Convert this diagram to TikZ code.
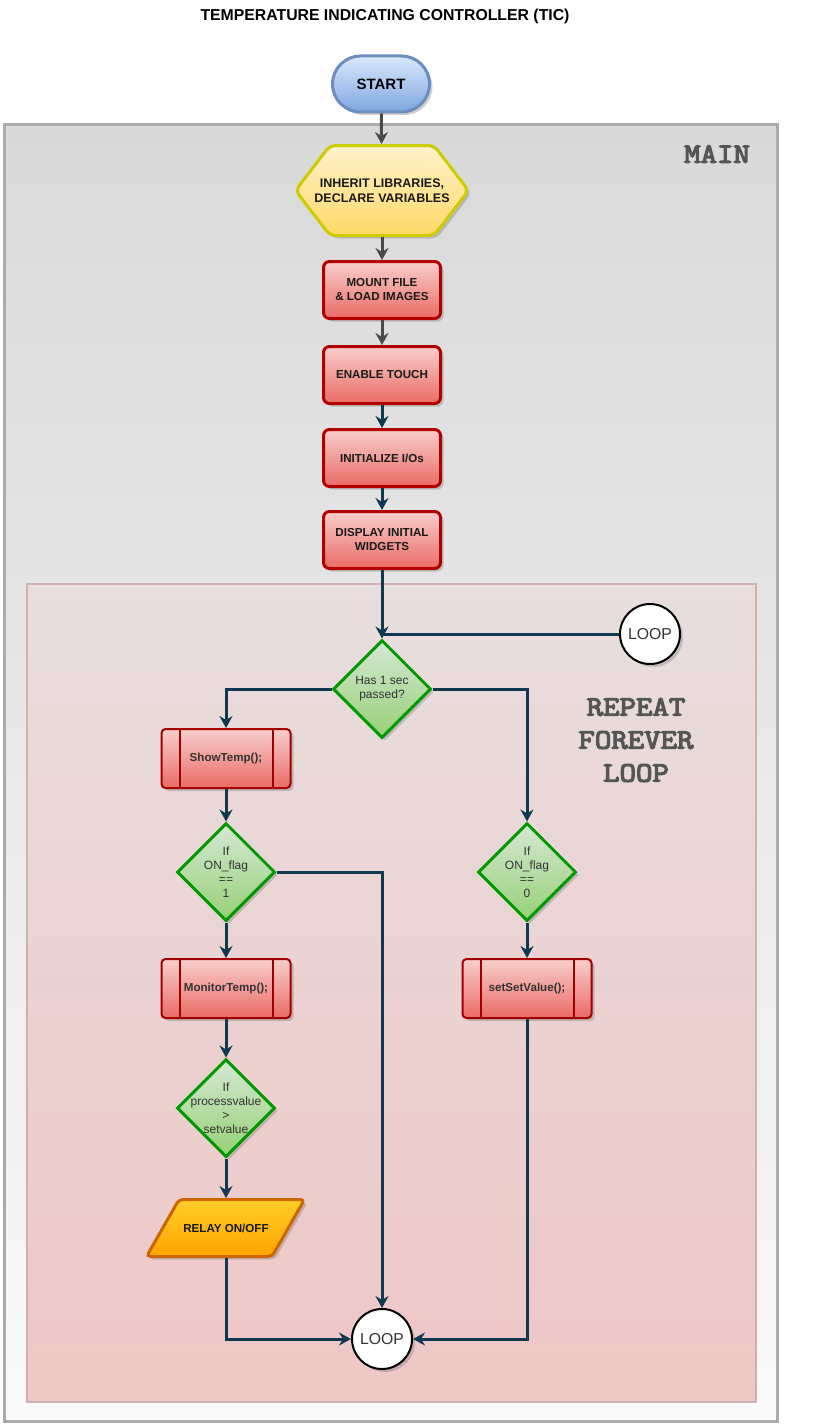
\documentclass[tikz,border=0pt]{standalone}
\usepackage{fontspec}
\setmainfont{Liberation Sans}
\newfontfamily\courb[FakeBold=4.5,FakeStretch=1.14]{Latin Modern Mono}
\usetikzlibrary{arrows.meta,shadows,shapes.geometric,calc}
\definecolor{navy}{HTML}{10394F}
\definecolor{arrgray}{HTML}{4A4A4A}
\definecolor{outerb}{HTML}{ABABAB}
\definecolor{outtop}{HTML}{D9D9D9}
\definecolor{outbot}{HTML}{FAFAFA}
\definecolor{innerb}{HTML}{D0B0B0}
\definecolor{intop}{HTML}{E8DEDE}
\definecolor{inbot}{HTML}{EFC6C6}
\definecolor{bluetop}{HTML}{DAE8FC}
\definecolor{bluebot}{HTML}{7EA6E0}
\definecolor{blueb}{HTML}{6C8EBF}
\definecolor{yeltop}{HTML}{FFF2CC}
\definecolor{yelbot}{HTML}{FFD966}
\definecolor{yelb}{HTML}{CCCC00}
\definecolor{redtop}{HTML}{F8CECC}
\definecolor{redbot}{HTML}{EA6B66}
\definecolor{redb}{HTML}{B20000}
\definecolor{preb}{HTML}{A20000}
\definecolor{grntop}{HTML}{D5E8D4}
\definecolor{grnbot}{HTML}{97D077}
\definecolor{grnb}{HTML}{009900}
\definecolor{orgtop}{HTML}{FFCD28}
\definecolor{orgbot}{HTML}{FFA500}
\definecolor{orgb}{HTML}{CC6600}
\definecolor{txtdark}{HTML}{1A1A1A}
\definecolor{txtgray}{HTML}{333333}
\definecolor{labgray}{HTML}{555555}
\begin{document}
\begin{tikzpicture}[x=1pt,y=-1pt,
  shd/.style={drop shadow={shadow xshift=3pt,shadow yshift=-3pt,opacity=0.3,fill=black!60}},
  startbox/.style={draw=blueb,line width=3pt,rounded corners=28pt,top color=bluetop,bottom color=bluebot,
    minimum width=97pt,minimum height=56pt,inner sep=0pt,font=\bfseries\fontsize{15}{18}\selectfont,text=black,shd},
  procbox/.style={draw=redb,line width=3pt,rounded corners=6pt,top color=redtop,bottom color=redbot,
    minimum width=117pt,minimum height=57pt,inner sep=0pt,align=center,
    font=\bfseries\fontsize{11.6}{14}\selectfont,text=txtdark,shd},
  prebox/.style={draw=preb,line width=2pt,rounded corners=4pt,top color=redtop,bottom color=redbot,
    minimum width=129pt,minimum height=59pt,inner sep=0pt,align=center,
    font=\bfseries\fontsize{11.6}{14}\selectfont,text=txtgray,shd},
  decbox/.style={diamond,aspect=1,draw=grnb,line width=3pt,top color=grntop,bottom color=grnbot,
    minimum width=98pt,minimum height=98pt,inner sep=0pt,shd},
  dectext/.style={align=center,font=\fontsize{12}{14}\selectfont,text=txtgray,inner sep=0pt},
  loopc/.style={circle,draw=black,line width=2pt,fill=white,minimum size=60pt,inner sep=0pt,
    font=\fontsize{15.8}{18}\selectfont,text=txtgray,shd},
  anchorbox/.style={rectangle,inner sep=0pt,outer sep=0pt,align=center},
  con/.style={draw=navy,line width=3pt,-{Stealth[length=12pt,width=13pt,inset=4pt]}},
  gcon/.style={con,draw=arrgray},
  biglabel/.style={font=\courb\fontsize{28}{33}\selectfont,text=labgray,align=center}
]
\useasboundingbox (0,0) rectangle (833,1426);
\fill[white] (0,0) rectangle (833,1426);

% containers
\draw[draw=outerb,line width=3pt,top color=outtop,bottom color=outbot] (4.5,124.5) rectangle (777,1421.5);
\draw[draw=innerb,line width=2.5pt,top color=intop,bottom color=inbot] (27,584) rectangle (756,1402);

% title and labels
\node[font=\bfseries\fontsize{15.8}{19}\selectfont,text=black] (title) at (385,16) {TEMPERATURE INDICATING CONTROLLER (TIC)};
\node[biglabel] (mainlab) at (717,154) {MAIN};
\node[biglabel] (replab) at (636,740) {REPEAT\\FOREVER\\LOOP};

% start
\node[startbox] (start) at (381,84) {START};

% hexagon
\path[draw=yelb,line width=3pt,top color=yeltop,bottom color=yelbot,rounded corners=6pt,shd]
  (295.5,190.5) -- (330,145.5) -- (434,145.5) -- (468.5,190.5) -- (434,235.5) -- (330,235.5) -- cycle;
\node[anchorbox,minimum width=176pt,minimum height=93pt,font=\bfseries\fontsize{12.5}{15}\selectfont,text=txtdark]
  (hex) at (382,190.5) {INHERIT LIBRARIES,\\DECLARE VARIABLES};

% process boxes
\node[procbox] (mount) at (382,290) {MOUNT FILE\\\& LOAD IMAGES};
\node[procbox] (enable) at (382,375) {ENABLE TOUCH};
\node[procbox] (init) at (382,458) {INITIALIZE I/Os};
\node[procbox] (disp) at (382,540) {DISPLAY INITIAL\\WIDGETS};

% decisions
\node[decbox] (dsec) at (382,689) {};
\node[dectext] at (dsec.center) {Has 1 sec\\passed?};
\node[loopc] (loopa) at (650,634) {LOOP};

\node[prebox] (show) at (226,758.5) {ShowTemp();};
\node[decbox] (don) at (226,872) {};
\node[dectext] at (don.center) {If\\ON\_flag\\==\\1};
\node[prebox] (monitor) at (226,988.5) {MonitorTemp();};
\node[decbox] (dpv) at (226,1108) {};
\node[dectext] at (dpv.center) {If\\processvalue\\>\\setvalue};

% relay parallelogram
\path[draw=orgb,line width=3pt,top color=orgtop,bottom color=orgbot,rounded corners=4pt,shd]
  (179,1199.5) -- (304.5,1199.5) -- (272,1256.5) -- (146.5,1256.5) -- cycle;
\node[anchorbox,minimum width=161pt,minimum height=60pt,font=\bfseries\fontsize{11.6}{14}\selectfont,text=txtdark]
  (relay) at (226,1228) {RELAY ON/OFF};

\node[decbox] (doff) at (527,872) {};
\node[dectext] at (doff.center) {If\\ON\_flag\\==\\0};
\node[prebox] (setv) at (527,988.5) {setSetValue();};

\node[loopc] (loopb) at (382,1339) {LOOP};

% inner lines of predefined process boxes
\foreach \n in {show,monitor,setv}{
  \draw[preb,line width=2pt] ([xshift=19pt,yshift=-1pt]\n.north west) -- ([xshift=19pt,yshift=1pt]\n.south west);
  \draw[preb,line width=2pt] ([xshift=-19pt,yshift=-1pt]\n.north east) -- ([xshift=-19pt,yshift=1pt]\n.south east);
}

% connectors
\draw[gcon] (start) -- (hex);
\draw[gcon] (hex) -- (mount);
\draw[gcon] (mount) -- (enable);
\draw[con] (enable) -- (init);
\draw[con] (init) -- (disp);
\draw[con] (disp) -- (dsec);
\draw[draw=navy,line width=3pt] (loopa.west) -- (loopa.west -| dsec.north);
\draw[con] (dsec.west) -| (show.north);
\draw[con] (dsec.east) -| (doff.north);
\draw[con] (show) -- (don);
\draw[con] (don) -- (monitor);
\draw[con] (monitor) -- (dpv);
\draw[con] (dpv) -- (relay);
\draw[con] (don.east) -| (loopb.north);
\draw[con] (relay.south) |- (loopb.west);
\draw[con] (doff) -- (setv);
\draw[con] (setv.south) |- (loopb.east);
\end{tikzpicture}
\end{document}
